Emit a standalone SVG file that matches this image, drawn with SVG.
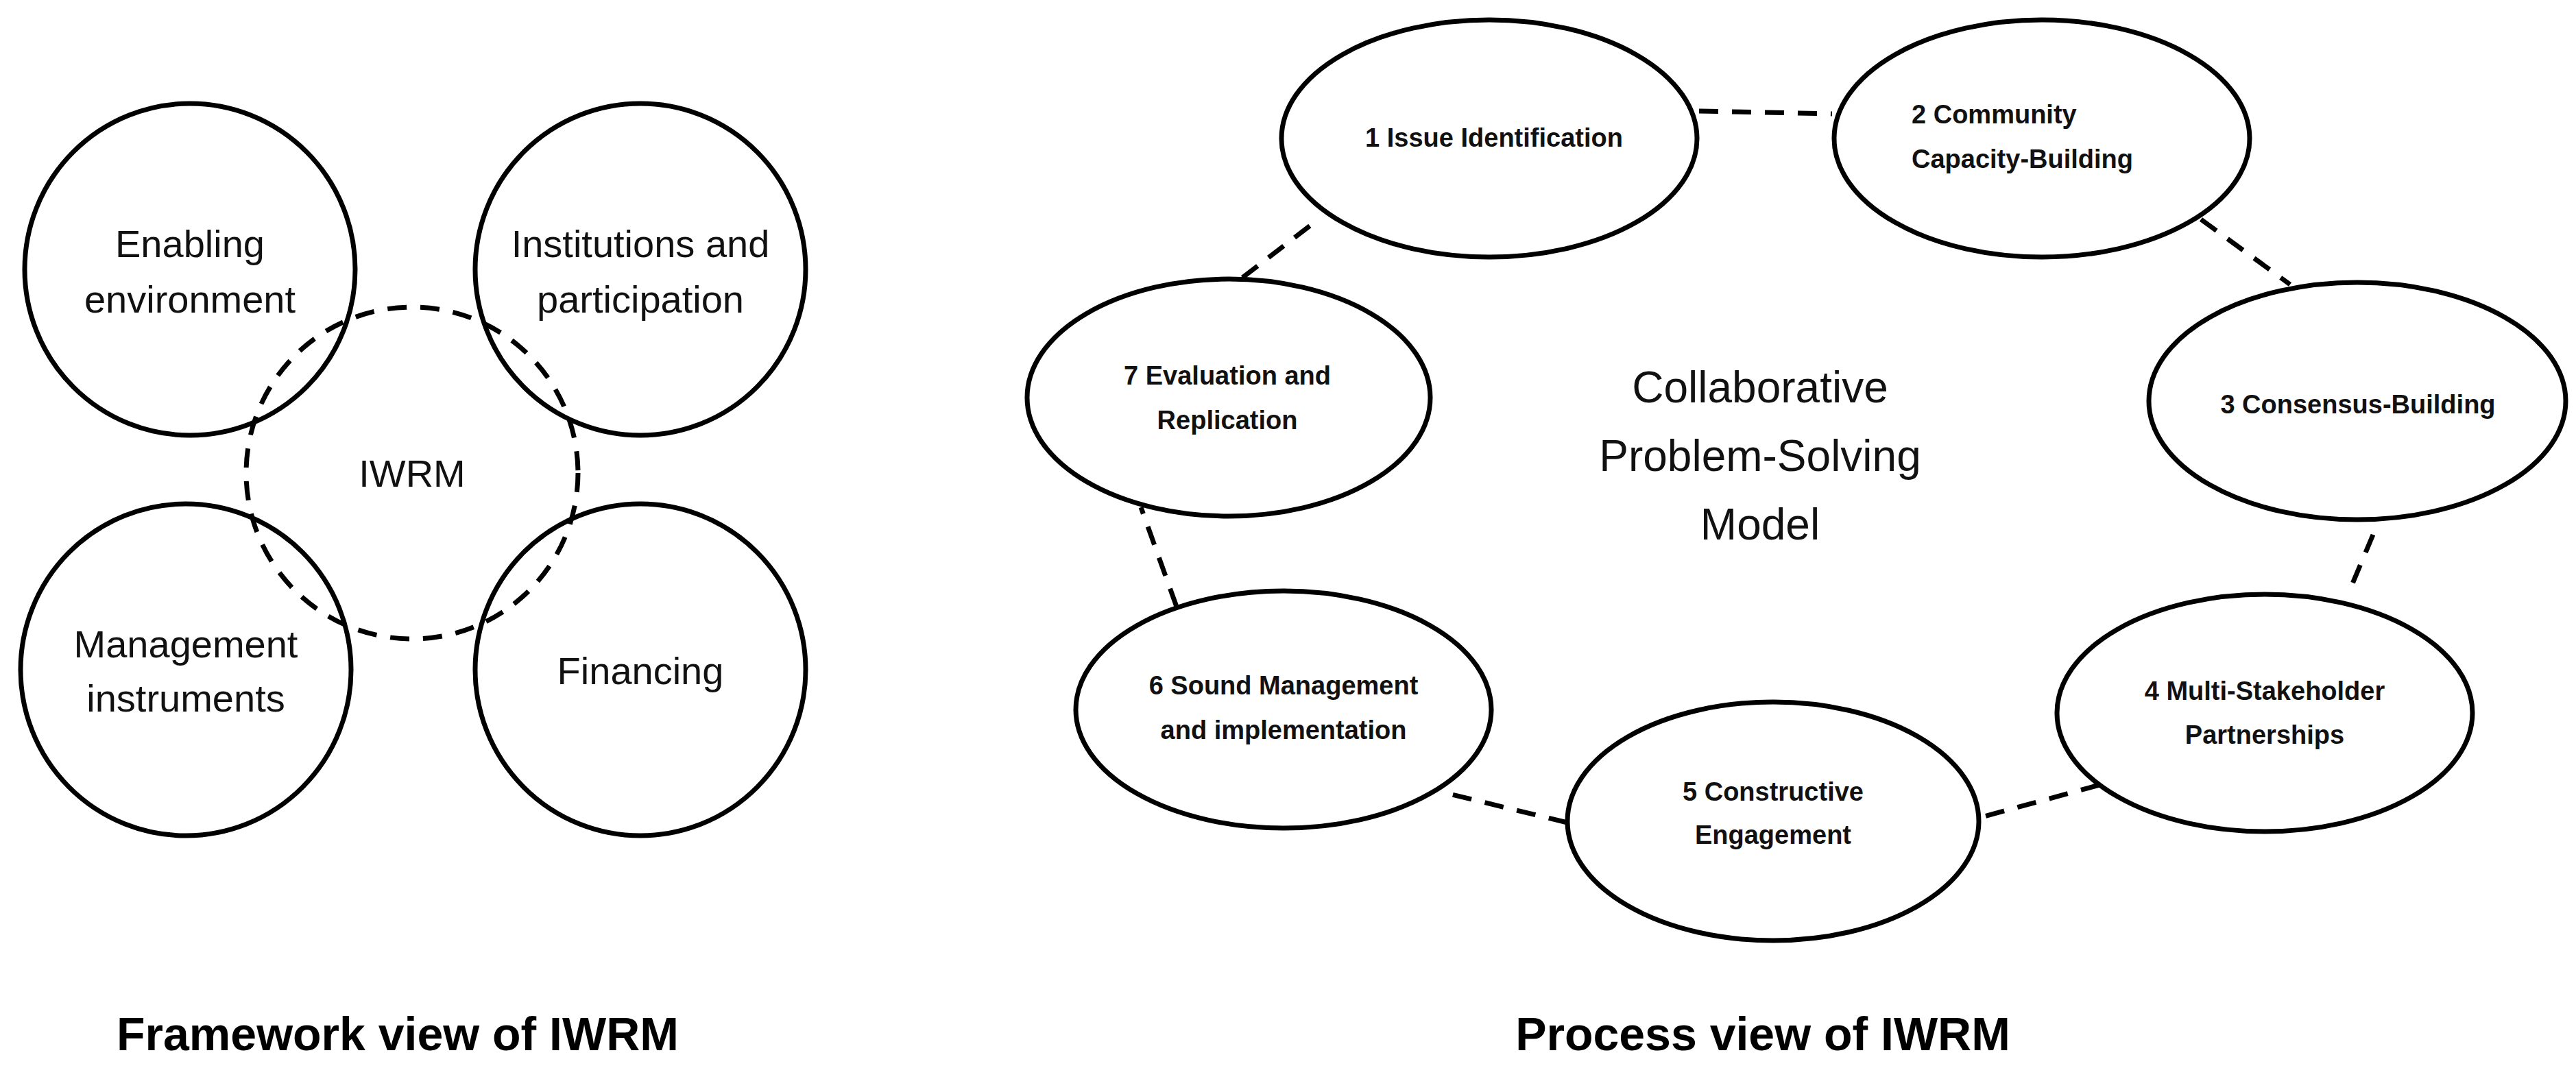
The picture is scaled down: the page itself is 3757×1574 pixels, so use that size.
<svg xmlns="http://www.w3.org/2000/svg" width="3757" height="1574" viewBox="0 0 3757 1574">
<style>
.n{fill:none;stroke:#000;stroke-width:7}
.d{fill:none;stroke:#000;stroke-width:7;stroke-dasharray:28 20}
.t{font-family:"Liberation Sans",Arial,sans-serif;font-size:56px;text-anchor:middle;fill:#111}
.b{font-family:"Liberation Sans",Arial,sans-serif;font-size:38px;font-weight:bold;text-anchor:middle;fill:#111}
.h{font-family:"Liberation Sans",Arial,sans-serif;font-size:68px;font-weight:bold;text-anchor:middle;fill:#000}
</style>
<rect width="3757" height="1574" fill="#fff"/>
<g id="enabling"><ellipse class="n" cx="277" cy="393" rx="241" ry="242"/><text class="t" x="277" y="375">Enabling</text><text class="t" x="277" y="456">environment</text></g>
<g id="institutions"><ellipse class="n" cx="934" cy="393" rx="241" ry="242"/><text class="t" x="934" y="375">Institutions and</text><text class="t" x="934" y="456">participation</text></g>
<g id="management"><ellipse class="n" cx="271" cy="977" rx="241" ry="242"/><text class="t" x="271" y="959">Management</text><text class="t" x="271" y="1038">instruments</text></g>
<g id="financing"><ellipse class="n" cx="934" cy="977" rx="241" ry="242"/><text class="t" x="934" y="998">Financing</text></g>
<g id="iwrm"><ellipse class="d" cx="601" cy="690" rx="242" ry="242"/><text class="t" x="601" y="710">IWRM</text></g>
<text class="h" x="580" y="1532">Framework view of IWRM</text>

<g id="connectors">
<line class="d" x1="2478" y1="162" x2="2672" y2="166"/>
<line class="d" x1="3210" y1="320" x2="3340" y2="415"/>
<line class="d" x1="3461" y1="780" x2="3424" y2="868"/>
<line class="d" x1="3062" y1="1145" x2="2890" y2="1192"/>
<line class="d" x1="2286" y1="1200" x2="2101" y2="1155"/>
<line class="d" x1="1716" y1="885" x2="1664" y2="740"/>
<line class="d" x1="1812" y1="405" x2="1920" y2="322"/>
</g>
<g id="n1"><ellipse class="n" cx="2172" cy="202" rx="303" ry="173"/><text class="b" x="2179" y="214">1 Issue Identification</text></g>
<g id="n2"><ellipse class="n" cx="2978" cy="202" rx="303" ry="173"/><text class="b" x="2788" y="180" text-anchor="start" style="text-anchor:start">2 Community</text><text class="b" x="2788" y="245" style="text-anchor:start">Capacity-Building</text></g>
<g id="n3"><ellipse class="n" cx="3438" cy="585" rx="304" ry="173"/><text class="b" x="3439" y="603">3 Consensus-Building</text></g>
<g id="n4"><ellipse class="n" cx="3303" cy="1040" rx="303" ry="173"/><text class="b" x="3303" y="1021">4 Multi-Stakeholder</text><text class="b" x="3303" y="1085">Partnerships</text></g>
<g id="n5"><ellipse class="n" cx="2586" cy="1198" rx="300" ry="174"/><text class="b" x="2586" y="1168">5 Constructive</text><text class="b" x="2586" y="1231">Engagement</text></g>
<g id="n6"><ellipse class="n" cx="1872" cy="1035" rx="303" ry="173"/><text class="b" x="1872" y="1013">6 Sound Management</text><text class="b" x="1872" y="1078">and implementation</text></g>
<g id="n7"><ellipse class="n" cx="1792" cy="580" rx="294" ry="173"/><text class="b" x="1790" y="561">7 Evaluation and</text><text class="b" x="1790" y="626">Replication</text></g>
<g id="center"><text class="t" x="2567" y="587" style="font-size:64px">Collaborative</text><text class="t" x="2567" y="687" style="font-size:64px">Problem-Solving</text><text class="t" x="2567" y="787" style="font-size:64px">Model</text></g>
<text class="h" x="2571" y="1532">Process view of IWRM</text>
</svg>
